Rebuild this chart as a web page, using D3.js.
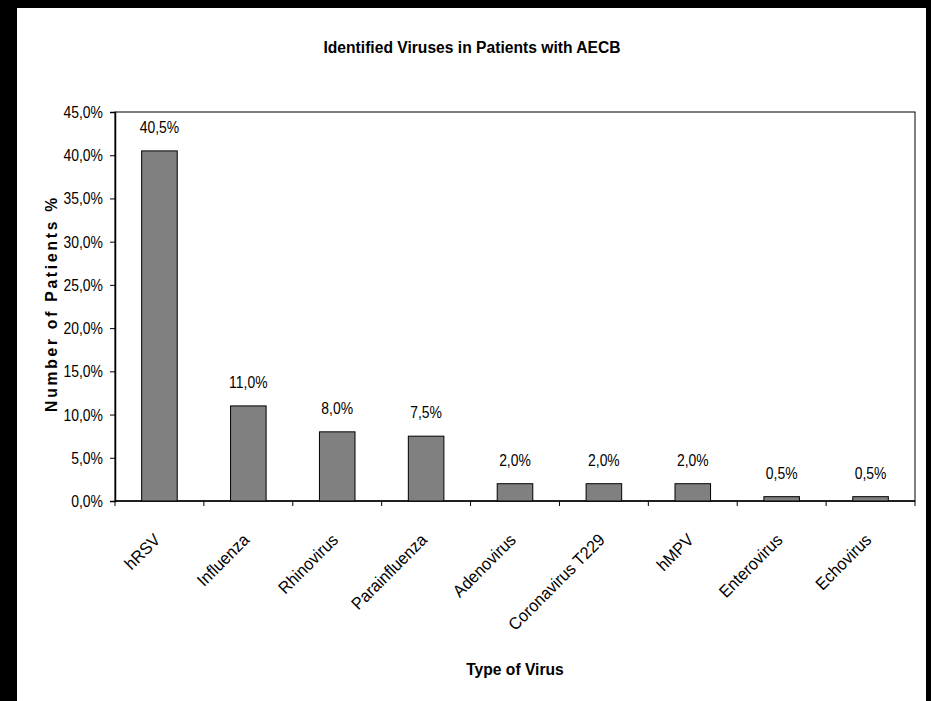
<!DOCTYPE html>
<html>
<head>
<meta charset="utf-8">
<script src="https://cdn.jsdelivr.net/npm/d3@7"></script>
<style>
  body { margin: 0; background: #000; }
  svg text { font-family: "Liberation Sans", Arial, sans-serif; fill: #000; }
</style>
</head>
<body>
<svg id="bar_chart_svg" width="931" height="701"></svg>
<script>
// chart values
const virus_names = ["hRSV", "Influenza", "Rhinovirus", "Parainfluenza", "Adenovirus",
    "Coronavirus T229", "hMPV", "Enterovirus", "Echovirus"];
const patient_pct = [40.5, 11.0, 8.0, 7.5, 2.0, 2.0, 2.0, 0.5, 0.5];
const y_ticks = [0, 5, 10, 15, 20, 25, 30, 35, 40, 45];

svg_width = 931
svg_height = 701
plot_left = 115
plot_right = 915
plot_top = 112
plot_bottom = 501
narrow = 0.82   // the source font is a tall, narrow face
bold_narrow = 0.92

const pct = d3.formatLocale({decimal: ",", thousands: ".", grouping: [3], currency: ["", ""]}).format(".1f");

document.addEventListener('DOMContentLoaded', function () {
    bar_svg = d3.select('#bar_chart_svg');
    bar_data = virus_names.map((name, i) => ({ virus: name, value: patient_pct[i] }));
    drawBarChart(bar_data, bar_svg);
});

function drawBarChart(bar_data, barSvg) {

    // white page inside the black frame
    barSvg.append("rect")
        .attr("x", 17).attr("y", 8)
        .attr("width", 909).attr("height", svg_height - 8)
        .style("fill", "#fff");

    var xScale = d3.scaleBand()
        .range([plot_left, plot_right])
        .domain(bar_data.map(d => d.virus))
        .paddingInner(0.6)
        .paddingOuter(0.3);

    var bandScale = d3.scaleBand()
        .range([plot_left, plot_right])
        .domain(bar_data.map(d => d.virus));

    var yScale = d3.scaleLinear()
        .range([plot_bottom, plot_top])
        .domain([0, 45]);

    // plot frame
    barSvg.append("rect")
        .attr("x", plot_left).attr("y", plot_top)
        .attr("width", plot_right - plot_left).attr("height", plot_bottom - plot_top)
        .style("fill", "none")
        .style("stroke", "#000")
        .style("stroke-width", 1);

    // y axis
    var yAxis = barSvg.append("g")
        .attr("transform", `translate(${plot_left},0)`)
        .call(d3.axisLeft(yScale).tickValues(y_ticks).tickFormat(d => pct(d) + "%").tickSize(5).tickPadding(7));
    yAxis.select(".domain").style("stroke-width", 1.5);
    yAxis.selectAll(".tick line").style("stroke-width", 1);
    yAxis.selectAll("text")
        .style("font-size", "17px")
        .attr("font-family", null)
        .attr("transform", `translate(-12,0) scale(${narrow},1)`)
        .attr("x", 0);

    // x axis ticks at band edges
    var edges = bar_data.map(d => bandScale(d.virus)).concat([plot_right]);
    var xAxisG = barSvg.append("g");
    xAxisG.append("line")
        .attr("x1", plot_left).attr("x2", plot_right)
        .attr("y1", plot_bottom).attr("y2", plot_bottom)
        .style("stroke", "#000").style("stroke-width", 1.5);
    xAxisG.selectAll(".xtick")
        .data(edges)
        .enter()
        .append("line")
        .attr("class", "xtick")
        .attr("x1", d => d).attr("x2", d => d)
        .attr("y1", plot_bottom).attr("y2", plot_bottom + 5)
        .style("stroke", "#000");

    // rotated category labels
    barSvg.selectAll(".xlabel")
        .data(bar_data)
        .enter()
        .append("text")
        .attr("class", "xlabel")
        .attr("transform", d => `translate(${bandScale(d.virus) + bandScale.bandwidth() / 2 + 2},${plot_bottom + 40}) rotate(-45) scale(0.95,1)`)
        .attr("text-anchor", "end")
        .style("font-size", "17px")
        .text(d => d.virus);

    // bars
    barSvg.selectAll(".bar")
        .data(bar_data)
        .enter()
        .append("rect")
        .attr("class", "bar")
        .style("fill", "#808080")
        .style("stroke", "black")
        .style("stroke-width", 1)
        .attr("x", d => xScale(d.virus))
        .attr("width", xScale.bandwidth())
        .attr("y", d => yScale(d.value))
        .attr("height", d => plot_bottom - yScale(d.value));

    // value labels
    barSvg.selectAll(".vlabel")
        .data(bar_data)
        .enter()
        .append("text")
        .attr("class", "vlabel")
        .attr("transform", d => `translate(${xScale(d.virus) + xScale.bandwidth() / 2},${yScale(d.value) - 18}) scale(${narrow},1)`)
        .attr("text-anchor", "middle")
        .style("font-size", "17px")
        .text(d => pct(d.value) + "%");

    // titles
    barSvg.append("text")
        .attr("transform", `translate(472,53) scale(${bold_narrow},1)`)
        .attr("text-anchor", "middle")
        .style("font-size", "17px").style("font-weight", "bold")
        .text("Identified Viruses in Patients with AECB");

    barSvg.append("text")
        .attr("transform", `translate(${(plot_left + plot_right) / 2},675) scale(${bold_narrow},1)`)
        .attr("text-anchor", "middle")
        .style("font-size", "17px").style("font-weight", "bold")
        .text("Type of Virus");

    barSvg.append("text")
        .attr("transform", `translate(57,${(plot_top + plot_bottom) / 2 - 3}) rotate(-90) scale(${bold_narrow},1)`)
        .attr("text-anchor", "middle")
        .style("font-size", "17px").style("font-weight", "bold")
        .style("letter-spacing", "3px")
        .text("Number of Patients %");
}
</script>
</body>
</html>
